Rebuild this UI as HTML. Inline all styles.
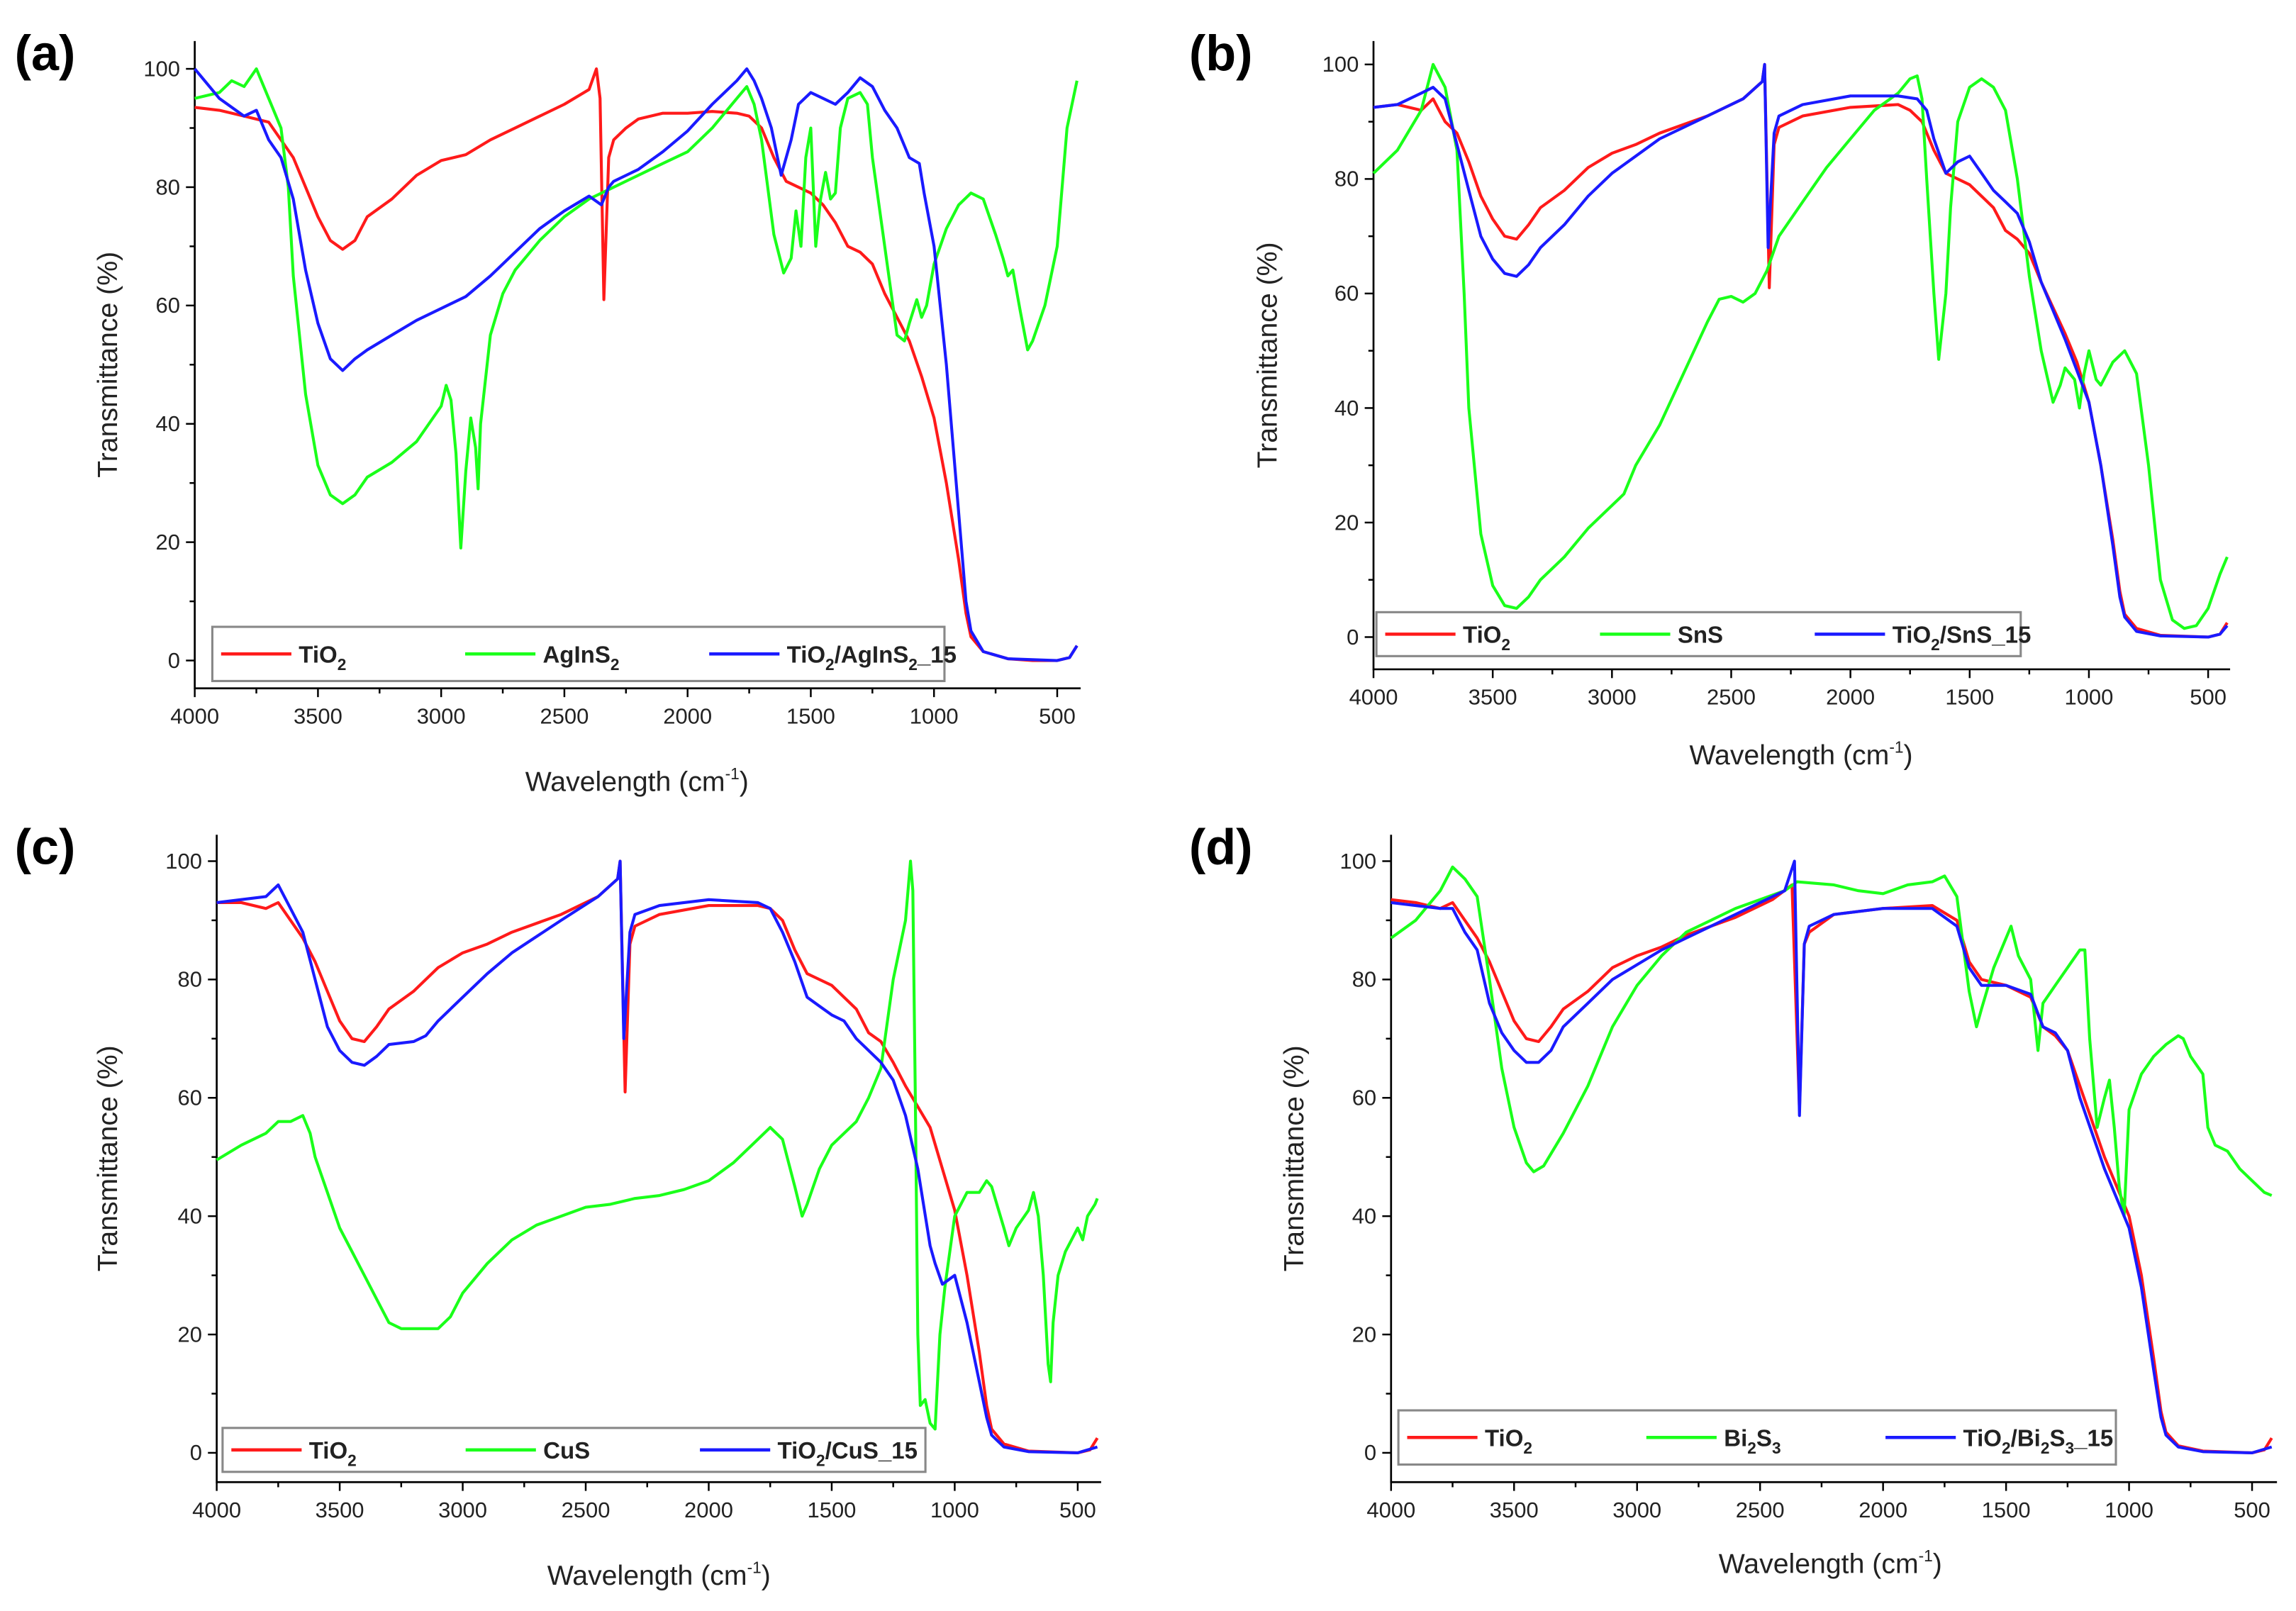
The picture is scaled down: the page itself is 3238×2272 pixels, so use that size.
<!DOCTYPE html>
<html><head><meta charset="utf-8"><style>
html,body{margin:0;padding:0;background:#fff;}
svg{display:block;font-family:"Liberation Sans",sans-serif;}
</style></head>
<body>
<svg id="fig" width="3238" height="2272" viewBox="0 0 1568 1100" preserveAspectRatio="none" xmlns="http://www.w3.org/2000/svg"></svg>
<script>
// ---- data (wavenumber, transmittance) ----
const xTicks = [4000,3500,3000,2500,2000,1500,1000,500];
const yTicks = [0,20,40,60,80,100];

const a_TiO2 = [[4000,93.5],[3900,93],[3800,92],[3700,91],[3650,88],[3600,85],[3550,80],[3500,75],[3450,71],[3400,69.5],[3350,71],[3300,75],[3200,78],[3100,82],[3000,84.5],[2900,85.5],[2800,88],[2700,90],[2600,92],[2500,94],[2400,96.5],[2370,100],[2355,95],[2340,61],[2320,85],[2300,88],[2250,90],[2200,91.5],[2100,92.5],[2000,92.5],[1900,92.8],[1800,92.5],[1750,92],[1700,90],[1650,85],[1600,81],[1500,79],[1450,77],[1400,74],[1350,70],[1300,69],[1250,67],[1200,62],[1100,54],[1050,48],[1000,41],[950,30],[900,17],[870,8],[850,4],[800,1.5],[700,0.3],[600,0],[500,0],[450,0.5],[420,2.5]];
const a_Sample = [[4000,95],[3900,96],[3850,98],[3800,97],[3750,100],[3700,95],[3650,90],[3620,80],[3600,65],[3550,45],[3500,33],[3450,28],[3400,26.5],[3350,28],[3300,31],[3200,33.5],[3100,37],[3000,43],[2980,46.5],[2960,44],[2940,35],[2920,19],[2900,32],[2880,41],[2860,36],[2850,29],[2840,40],[2800,55],[2750,62],[2700,66],[2600,71],[2500,75],[2400,78],[2300,80],[2200,82],[2100,84],[2000,86],[1900,90],[1800,95],[1760,97],[1730,94],[1700,88],[1650,72],[1610,65.5],[1580,68],[1560,76],[1540,70],[1520,85],[1500,90],[1480,70],[1460,78],[1440,82.5],[1420,78],[1400,79],[1380,90],[1350,95],[1300,96],[1270,94],[1250,85],[1200,70],[1150,55],[1120,54],[1100,57],[1070,61],[1050,58],[1030,60],[1000,67],[950,73],[900,77],[850,79],[800,78],[750,72],[720,68],[700,65],[680,66],[650,59],[620,52.5],[600,54],[550,60],[500,70],[460,90],[420,98]];
const a_Comp = [[4000,100],[3900,95],[3800,92],[3750,93],[3700,88],[3650,85],[3600,78],[3550,66],[3500,57],[3450,51],[3400,49],[3350,51],[3300,52.5],[3200,55],[3100,57.5],[3000,59.5],[2900,61.5],[2800,65],[2700,69],[2600,73],[2500,76],[2400,78.5],[2350,77],[2320,80],[2300,81],[2200,83],[2100,86],[2000,89.5],[1900,94],[1800,98],[1760,100],[1730,98],[1700,95],[1660,90],[1620,82],[1580,88],[1550,94],[1500,96],[1450,95],[1400,94],[1350,96],[1300,98.5],[1250,97],[1200,93],[1150,90],[1100,85],[1060,84],[1040,79],[1000,70],[950,50],[900,25],[870,10],[850,5],[800,1.5],[700,0.3],[500,0],[450,0.5],[420,2.5]];

const b_TiO2 = [[4000,92.5],[3900,93],[3800,92],[3750,94],[3700,90],[3650,88],[3600,83],[3550,77],[3500,73],[3450,70],[3400,69.5],[3350,72],[3300,75],[3200,78],[3100,82],[3000,84.5],[2900,86],[2800,88],[2600,91],[2450,94],[2370,97],[2360,100],[2340,61],[2320,86],[2300,89],[2200,91],[2000,92.5],[1800,93],[1750,92],[1700,90],[1650,85],[1600,81],[1500,79],[1400,75],[1350,71],[1300,69.5],[1250,67],[1200,62],[1100,53],[1050,48],[1000,41],[950,30],[900,17],[870,8],[850,4],[800,1.5],[700,0.3],[500,0],[450,0.5],[420,2.5]];
const b_Sample = [[4000,81],[3900,85],[3800,92],[3750,100],[3700,96],[3650,85],[3620,60],[3600,40],[3550,18],[3500,9],[3450,5.5],[3400,5],[3350,7],[3300,10],[3200,14],[3100,19],[3000,23],[2950,25],[2900,30],[2800,37],[2700,46],[2600,55],[2550,59],[2500,59.5],[2450,58.5],[2400,60],[2350,64],[2300,70],[2200,76],[2100,82],[2000,87],[1900,92],[1800,95],[1750,97.5],[1720,98],[1700,94],[1680,80],[1650,60],[1630,48.5],[1600,60],[1580,75],[1550,90],[1500,96],[1450,97.5],[1400,96],[1350,92],[1300,80],[1250,63],[1200,50],[1150,41],[1120,44],[1100,47],[1060,45],[1040,40],[1020,46],[1000,50],[970,45],[950,44],[900,48],[850,50],[800,46],[750,30],[700,10],[650,3],[600,1.5],[550,2],[500,5],[450,11],[420,14]];
const b_Comp = [[4000,92.5],[3900,93],[3800,95],[3750,96],[3700,94],[3650,86],[3600,78],[3550,70],[3500,66],[3450,63.5],[3400,63],[3350,65],[3300,68],[3200,72],[3100,77],[3000,81],[2900,84],[2800,87],[2600,91],[2450,94],[2370,97],[2360,100],[2345,68],[2320,88],[2300,91],[2200,93],[2000,94.5],[1800,94.5],[1720,94],[1680,92],[1650,87],[1600,81],[1550,83],[1500,84],[1450,81],[1400,78],[1350,76],[1300,74],[1250,69],[1200,62],[1100,52],[1000,41],[950,30],[900,16],[870,7],[850,3.5],[800,1],[700,0.2],[500,0],[450,0.5],[420,2]];

const c_TiO2 = [[4000,93],[3900,93],[3800,92],[3750,93],[3700,90],[3650,87],[3600,83],[3550,78],[3500,73],[3450,70],[3400,69.5],[3350,72],[3300,75],[3200,78],[3100,82],[3000,84.5],[2900,86],[2800,88],[2600,91],[2450,94],[2370,97],[2360,100],[2340,61],[2320,86],[2300,89],[2200,91],[2000,92.5],[1800,92.5],[1750,92],[1700,90],[1650,85],[1600,81],[1500,79],[1400,75],[1350,71],[1300,69.5],[1250,66],[1200,62],[1100,55],[1050,48],[1000,41],[950,30],[900,17],[870,8],[850,4],[800,1.5],[700,0.3],[500,0],[450,0.5],[420,2.5]];
const c_Sample = [[4000,49.5],[3900,52],[3800,54],[3750,56],[3700,56],[3650,57],[3620,54],[3600,50],[3550,44],[3500,38],[3450,34],[3400,30],[3350,26],[3300,22],[3250,21],[3200,21],[3150,21],[3100,21],[3050,23],[3000,27],[2900,32],[2800,36],[2700,38.5],[2600,40],[2500,41.5],[2400,42],[2300,43],[2200,43.5],[2100,44.5],[2000,46],[1900,49],[1800,53],[1750,55],[1700,53],[1650,45],[1620,40],[1600,42],[1550,48],[1500,52],[1400,56],[1350,60],[1300,65],[1250,80],[1200,90],[1180,100],[1170,95],[1160,60],[1150,20],[1140,8],[1120,9],[1100,5],[1080,4],[1060,20],[1040,28],[1000,40],[950,44],[900,44],[870,46],[850,45],[800,38],[780,35],[750,38],[700,41],[680,44],[660,40],[640,30],[620,15],[610,12],[600,22],[580,30],[550,34],[500,38],[480,36],[460,40],[430,42],[420,43]];
const c_Comp = [[4000,93],[3800,94],[3750,96],[3700,92],[3650,88],[3600,80],[3550,72],[3500,68],[3450,66],[3400,65.5],[3350,67],[3300,69],[3200,69.5],[3150,70.5],[3100,73],[3000,77],[2900,81],[2800,84.5],[2600,90],[2450,94],[2370,97],[2360,100],[2345,70],[2320,88],[2300,91],[2200,92.5],[2000,93.5],[1800,93],[1750,92],[1700,88],[1650,83],[1600,77],[1550,75.5],[1500,74],[1450,73],[1400,70],[1300,66],[1250,63],[1200,57],[1150,48],[1100,35],[1080,32],[1050,28.5],[1000,30],[950,22],[900,12],[870,6],[850,3],[800,1],[700,0.2],[500,0],[420,1]];

const d_TiO2 = [[4000,93.5],[3900,93],[3800,92],[3750,93],[3700,90],[3650,87],[3600,83],[3550,78],[3500,73],[3450,70],[3400,69.5],[3350,72],[3300,75],[3200,78],[3100,82],[3000,84],[2900,85.5],[2800,87.5],[2600,90.5],[2450,93.5],[2370,96],[2340,58],[2320,86],[2300,88],[2200,91],[2000,92],[1800,92.5],[1700,90],[1650,83],[1600,80],[1500,79],[1400,77],[1350,72],[1300,70.5],[1250,68],[1200,62],[1100,50],[1000,40],[950,30],[900,16],[870,7],[850,3.5],[800,1.2],[700,0.3],[500,0],[450,0.5],[420,2.5]];
const d_Sample = [[4000,87],[3900,90],[3800,95],[3750,99],[3700,97],[3650,94],[3600,80],[3550,65],[3500,55],[3450,49],[3420,47.5],[3380,48.5],[3300,54],[3200,62],[3100,72],[3000,79],[2900,84],[2800,88],[2600,92],[2400,95],[2350,96.5],[2200,96],[2100,95],[2000,94.5],[1900,96],[1800,96.5],[1750,97.5],[1700,94],[1650,78],[1620,72],[1600,75],[1550,82],[1500,87],[1480,89],[1450,84],[1400,80],[1370,68],[1350,76],[1300,79],[1250,82],[1200,85],[1180,85],[1160,70],[1130,55],[1100,60],[1080,63],[1060,55],[1040,45],[1020,40],[1000,58],[950,64],[900,67],[850,69],[800,70.5],[780,70],[750,67],[700,64],[680,55],[650,52],[600,51],[550,48],[500,46],[450,44],[420,43.5]];
const d_Comp = [[4000,93],[3800,92],[3750,92],[3700,88],[3650,85],[3600,76],[3550,71],[3500,68],[3450,66],[3400,66],[3350,68],[3300,72],[3200,76],[3100,80],[3000,82.5],[2900,85],[2800,87],[2600,91],[2400,95],[2360,100],[2340,57],[2320,86],[2300,89],[2200,91],[2000,92],[1800,92],[1700,89],[1650,82],[1600,79],[1500,79],[1400,77.5],[1350,72],[1300,71],[1250,68],[1200,60],[1100,48],[1000,38],[950,28],[900,14],[870,6],[850,3],[800,1],[700,0.2],[500,0],[420,1]];

// ---- layout (not data) ----
const panels = [
 {id:'a', label:'(a)', lx:10, ly:48, x4000:133, x500:722, xr:738, y100:47, y0:451, top:28, bottom:470,
  series:[a_TiO2,a_Sample,a_Comp], names:['TiO2','AgInS2','TiO2/AgInS2_15'],
  leg:{x:145,y:428,w:500,h:37}, ytx:80, xtx:435, xty:540},
 {id:'b', label:'(b)', lx:812, ly:48, x4000:938, x500:1508, xr:1523, y100:44, y0:435, top:28, bottom:457,
  series:[b_TiO2,b_Sample,b_Comp], names:['TiO2','SnS','TiO2/SnS_15'],
  leg:{x:940,y:418,w:440,h:30}, ytx:872, xtx:1230, xty:522},
 {id:'c', label:'(c)', lx:10, ly:590, x4000:148, x500:736, xr:752, y100:588, y0:992, top:570, bottom:1012,
  series:[c_TiO2,c_Sample,c_Comp], names:['TiO2','CuS','TiO2/CuS_15'],
  leg:{x:152,y:975,w:480,h:30}, ytx:80, xtx:450, xty:1082},
 {id:'d', label:'(d)', lx:812, ly:590, x4000:950, x500:1538, xr:1555, y100:588, y0:992, top:570, bottom:1012,
  series:[d_TiO2,d_Sample,d_Comp], names:['TiO2','Bi2S3','TiO2/Bi2S3_15'],
  leg:{x:955,y:963,w:490,h:37}, ytx:890, xtx:1250, xty:1074}
];
const colors = ['#ff1a1a','#1aff1a','#1a1aff'];
const svg = document.getElementById('fig');
const NS = 'http://www.w3.org/2000/svg';
function mk(tag, attrs, parent){const e=document.createElementNS(NS,tag);for(const k in attrs)e.setAttribute(k,attrs[k]);(parent||svg).appendChild(e);return e;}

function legendMarkup(t){
  const us=t.lastIndexOf('_');
  let html='', lowered=false;
  for(let k=0;k<t.length;k++){
    const ch=t[k], prev=t[k-1];
    const sub=/\d/.test(ch) && prev && /[A-Za-z]/.test(prev) && !(us>=0 && k>us);
    if(sub){ html+=`<tspan dy="${lowered?0:5}" font-size="11">${ch}</tspan>`; lowered=true; }
    else { html+= lowered?`<tspan dy="-5">${ch}</tspan>`:ch; lowered=false; }
  }
  return html;
}

panels.forEach(p=>{
  const g=mk('g',{});
  
  
  const sx=w=>p.x4000+(4000-w)*(p.x500-p.x4000)/3500;
  const sy=v=>p.y0-(v)*(p.y0-p.y100)/100;
  const xl=p.x4000;
  const pl=mk('text',{x:p.lx,y:p.ly,'font-size':34,'font-weight':'bold',fill:'#000'},g);
  pl.textContent=p.label;
  
  
  const ax=mk('path',{d:`M${xl} ${p.top} V${p.bottom} H${p.xr}`,stroke:'#000','stroke-width':1.3,fill:'none'},g);
  
  
  for(let v=0;v<=105;v+=10){
    const y=sy(v); if(y<p.top) continue;
    const major=v%20===0;
    mk('line',{x1:xl-(major?6:3.5),x2:xl,y1:y,y2:y,stroke:'#000','stroke-width':1.2},g);
  }
  yTicks.forEach(v=>{
    const t=mk('text',{x:xl-10,y:sy(v)+5,'font-size':15,'text-anchor':'end',fill:'#222'},g);
    t.textContent=v;
    
    
  });
  for(let w=4000;w>=400;w-=250){
    const x=sx(w); if(x>p.xr+0.5) continue;
    const major=w%500===0;
    mk('line',{x1:x,x2:x,y1:p.bottom,y2:p.bottom+(major?6:3.5),stroke:'#000','stroke-width':1.2},g);
  }
  xTicks.forEach(w=>{
    const t=mk('text',{x:sx(w),y:p.bottom+24,'font-size':15,'text-anchor':'middle',fill:'#222'},g);
    t.textContent=w;
    
    
  });
  const xt=mk('text',{x:p.xtx,y:p.xty,'font-size':19,'text-anchor':'middle',fill:'#222'},g);
  xt.innerHTML='Wavelength (cm<tspan dy="-8" font-size="11">-1</tspan><tspan dy="8">)</tspan>';
  
  
  const ymid=(p.top+p.bottom)/2;
  const yt=mk('text',{x:p.ytx,y:ymid,'font-size':19,'text-anchor':'middle',fill:'#222',transform:`rotate(-90 ${p.ytx} ${ymid})`},g);
  yt.textContent='Transmittance (%)';
  
  
  p.series.forEach((s,i)=>{
    const d=s.map((pt,k)=>(k?'L':'M')+sx(pt[0]).toFixed(1)+' '+sy(pt[1]).toFixed(1)).join(' ');
    const path=mk('path',{d:d,stroke:colors[i],'stroke-width':2,fill:'none','stroke-linejoin':'round'},g);
    
    
  });
  const L=p.leg;
  const lg=mk('g',{},g);
  
  
  mk('rect',{x:L.x,y:L.y,width:L.w,height:L.h,fill:'#fff',stroke:'#888','stroke-width':1.5},lg);
  const cw=L.w/3;
  p.names.forEach((n,i)=>{
    const ex=L.x+6+cw*i, ey=L.y+L.h/2;
    mk('line',{x1:ex,x2:ex+48,y1:ey,y2:ey,stroke:colors[i],'stroke-width':2.2},lg);
    const t=mk('text',{x:ex+53,y:ey+6,'font-size':16,'font-weight':'bold',fill:'#222'},lg);
    
    
    t.innerHTML=legendMarkup(n);
  });
});
</script>
</body></html>
